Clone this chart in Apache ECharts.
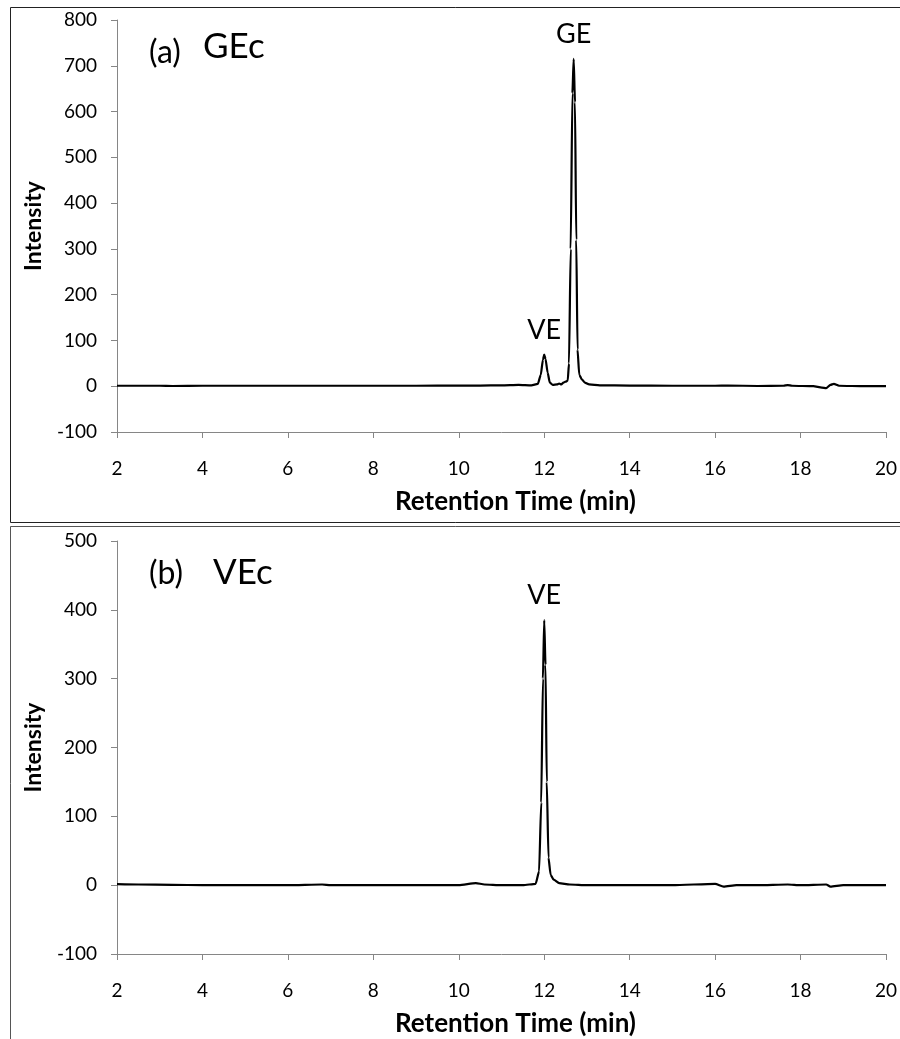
<!DOCTYPE html>
<html>
<head>
<meta charset="utf-8">
<script src="https://cdn.jsdelivr.net/npm/echarts@6/dist/echarts.min.js"></script>
<style>
html,body{margin:0;padding:0;background:#fff;}
#chart{width:900px;height:1039px;}
</style>
</head>
<body>
<div id="chart"></div>
<script>
// Panel (a) GEc chromatogram: retention time (min) and intensity
const timeA = [2.0,3.0,3.3,4.0,5.0,6.0,7.0,8.0,9.0,10.0,10.5,11.0,11.4,11.7,11.85,11.92,11.97,12.0,12.03,12.08,12.13,12.2,12.3,12.35,12.4,12.45,12.5,12.55,12.58,12.62,12.66,12.69,12.72,12.75,12.78,12.82,12.88,12.95,13.05,13.3,14.0,15.0,16.0,16.3,17.0,17.6,17.7,17.8,18.3,18.5,18.6,18.7,18.78,18.9,19.5,20.0];
const intensityA = [1,1,0.5,1,1,1,1,1,1,1.5,1.5,2,3,2,5,25,58,69,60,30,8,3,4,6,4,8,10,12,50,300,640,715,620,320,80,25,15,8,4,2,1.5,1,1,1.5,0.5,1,2.5,1,0,-3,-4,3,5,1,0,0];

// Panel (b) VEc chromatogram
const timeB = [2.0,2.5,3.3,4.0,5.0,6.0,6.8,7.0,8.0,9.0,10.0,10.4,10.6,11.0,11.5,11.8,11.88,11.93,11.97,12.0,12.03,12.06,12.1,12.15,12.22,12.35,12.6,13.0,14.0,15.0,16.0,16.2,16.5,17.0,17.7,18.0,18.6,18.7,19.0,20.0];
const intensityB = [1.5,1,0.5,0,0,0,1,0,0,0,0,3,1,0,0,2,20,120,300,385,320,150,40,15,8,3,1,0,0,0,2,-2,0,0,1,0,1,-2,0,0];

// Axis ticks
const xTicks = {min: 2, max: 20, interval: 2};
const yTicksA = {min: -100, max: 800, interval: 100};
const yTicksB = {min: -100, max: 500, interval: 100};

// Peak annotations
const peaksA = [{name: 'VE', time: 12.0, value: 69}, {name: 'GE', time: 12.69, value: 715}];
const peaksB = [{name: 'VE', time: 12.0, value: 385}];

const FONT = 'Lato';
const axisGray = '#868686';

function pairs(t, v){ return t.map((x,i)=>[x, v[i]]); }

function xAxisCfg(gridIndex){
  return {
    type: 'value', gridIndex, min: xTicks.min, max: xTicks.max, interval: xTicks.interval,
    axisLine: {show: true, onZero: false, lineStyle: {color: axisGray, width: 1}},
    axisTick: {show: true, inside: false, length: 6, lineStyle: {color: axisGray}},
    axisLabel: {color: '#000', fontFamily: FONT, fontSize: 19, margin: 27},
    splitLine: {show: false},
    name: 'Retention Time (min)', nameLocation: 'middle', nameGap: 57,
    nameTextStyle: {color: '#000', fontFamily: FONT, fontSize: 26, fontWeight: 'bold', padding: [0,0,0,28]}
  };
}
function yAxisCfg(gridIndex, t){
  return {
    type: 'value', gridIndex, min: t.min, max: t.max, interval: t.interval,
    axisLine: {show: true, onZero: false, lineStyle: {color: axisGray, width: 1}},
    axisTick: {show: true, inside: false, length: 6, lineStyle: {color: axisGray}},
    axisLabel: {color: '#000', fontFamily: FONT, fontSize: 19, margin: 20},
    splitLine: {show: false},
    name: 'Intensity', nameLocation: 'middle', nameGap: 72, nameRotate: 90,
    nameTextStyle: {color: '#000', fontFamily: FONT, fontSize: 23, fontWeight: 'bold'}
  };
}
function peakMarks(peaks){
  return {
    symbol: 'circle', symbolSize: 0, silent: true,
    label: {show: true, position: 'top', distance: 11, color: '#000', fontFamily: FONT, fontSize: 27,
            formatter: p => p.name},
    data: peaks.map(p => ({name: p.name, coord: [p.time, p.value]}))
  };
}

const chart = echarts.init(document.getElementById('chart'), null, {renderer: 'canvas'});
chart.setOption({
  backgroundColor: '#fff',
  animation: false,
  grid: [
    {left: 117, top: 20, width: 772, height: 412},
    {left: 117, top: 541, width: 772, height: 413}
  ],
  xAxis: [xAxisCfg(0), xAxisCfg(1)],
  yAxis: [yAxisCfg(0, yTicksA), yAxisCfg(1, yTicksB)],
  series: [
    {type: 'line', xAxisIndex: 0, yAxisIndex: 0, data: pairs(timeA, intensityA), showSymbol: false,
     smooth: 0.2, smoothMonotone: 'x', lineStyle: {color: '#000', width: 2.2}, markPoint: peakMarks(peaksA)},
    {type: 'line', xAxisIndex: 1, yAxisIndex: 1, data: pairs(timeB, intensityB), showSymbol: false,
     smooth: 0.2, smoothMonotone: 'x', lineStyle: {color: '#000', width: 2.2}, markPoint: peakMarks(peaksB)}
  ],
  graphic: [
    {type: 'rect', shape: {x: 10.5, y: 7.5, width: 900, height: 515}, style: {fill: 'none', stroke: '#222', lineWidth: 1}, silent: true},
    {type: 'rect', shape: {x: 10.5, y: 526.5, width: 900, height: 530}, style: {fill: 'none', stroke: '#555', lineWidth: 1}, silent: true},
    {type: 'text', left: 149, top: 37, style: {text: '(a)', fontFamily: FONT, fontSize: 32, fill: '#000'}},
    {type: 'text', left: 203, top: 29, style: {text: 'GEc', fontFamily: FONT, fontSize: 35, fill: '#000'}},
    {type: 'text', left: 149, top: 558, style: {text: '(b)', fontFamily: FONT, fontSize: 32, fill: '#000'}},
    {type: 'text', left: 213, top: 555, style: {text: 'VEc', fontFamily: FONT, fontSize: 35, fill: '#000'}}
  ]
});
</script>
</body>
</html>
